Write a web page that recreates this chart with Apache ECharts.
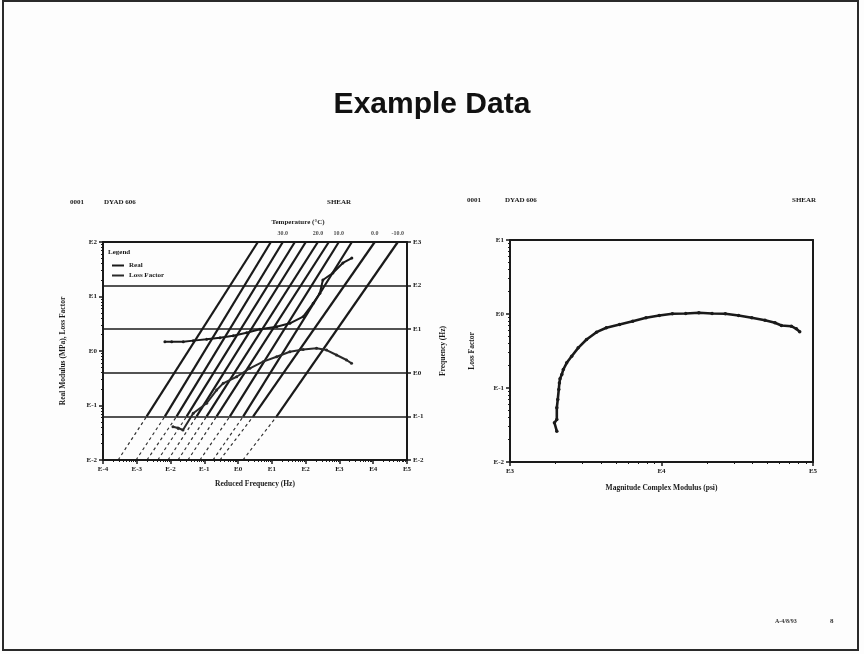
<!DOCTYPE html>
<html>
<head>
<meta charset="utf-8">
<script src="https://cdn.jsdelivr.net/npm/echarts@6/dist/echarts.min.js"></script>
<style>
html,body{margin:0;padding:0;background:#fff;}
#main{width:864px;height:654px;}
</style>
</head>
<body>
<div id="main"></div>
<script>
// left chart: reduced frequency nomograph
var realData = [[0.0068,1.48],[0.0108,1.48],[0.0238,1.48],[0.047,1.55],[0.117,1.64],[0.29,1.75],[0.716,1.91],[1.78,2.17],[4.42,2.5],[13.8,2.79],[34.1,3.22],[84.3,4.26],[167,7.5],[263,11.5],[323,20.1],[638,27.0],[1262,41.2],[2328,50.8]];
var lossData = [[0.0118,0.0408],[0.0166,0.0387],[0.0233,0.0355],[0.047,0.072],[0.117,0.11],[0.231,0.192],[0.362,0.255],[0.904,0.337],[2.23,0.482],[5.53,0.637],[13.8,0.785],[34.1,0.97],[84.3,1.07],[210,1.12],[415,1.04],[820,0.845],[1622,0.684],[2280,0.594]];
// isotherms: reduced frequency where each line meets 0.01 Hz, 0.1 Hz and 1000 Hz
var isoAt001 = [2.8e-4,9.5e-4,2.0e-3,4.2e-3,8.4e-3,0.0166,0.0327,0.074,0.18,0.29,1.39];
var isoAt01 = [1.96e-3,6.8e-3,0.0151,0.030,0.059,0.117,0.231,0.571,1.42,2.80,13.8];
var isoAt1000 = [3.85,9.33,21.1,47.9,101,230,485,960,2330,11100,53500];
var isoTemps = ['','','30.0','','','20.0','','10.0','','0.0','-10.0'];

// right chart: loss factor vs |E*|
var modulusData = [[2037,0.0261],[1965,0.0339],[2037,0.0375],[2037,0.054],[2067,0.070],[2099,0.0955],[2118,0.117],[2140,0.133],[2197,0.152],[2249,0.178],[2368,0.219],[2553,0.269],[2820,0.349],[3201,0.452],[3722,0.568],[4325,0.652],[5286,0.721],[6457,0.80],[7907,0.889],[9660,0.955],[11800,1.01],[14450,1.016],[17650,1.038],[21570,1.016],[26380,1.01],[32260,0.955],[39420,0.889],[48200,0.824],[56100,0.76],[61900,0.70],[71950,0.684],[77600,0.631],[81700,0.574]];

var ink = '#1a1a1a';
var serif = 'Liberation Serif';

function expLabel(v){
  return 'E' + Math.round(Math.log10(v));
}

var solidIso = [], dashIso = [], tempPts = [];
for (var i = 0; i < isoAt1000.length; i++) {
  dashIso.push({coords: [[isoAt001[i], 0.01], [isoAt01[i], 0.1]]});
  solidIso.push({coords: [[isoAt01[i], 0.1], [isoAt1000[i], 1000]]});
  if (isoTemps[i]) tempPts.push({value: [isoAt1000[i], 1000], name: isoTemps[i]});
}

function logAxis(opt) {
  var a = {
    type: 'log', logBase: 10, splitNumber: 10,
    axisLine: {show: true, onZero: false, lineStyle: {color: ink, width: 2}},
    axisTick: {show: true, length: 4, lineStyle: {color: ink, width: 1.5}},
    minorTick: {show: true, splitNumber: 9, length: 2, lineStyle: {color: ink}},
    splitLine: {show: false},
    axisLabel: {show: true, formatter: expLabel, fontFamily: serif, fontWeight: 'bold', fontSize: 7, color: ink, margin: 6},
    nameTextStyle: {fontFamily: serif, fontWeight: 'bold', fontSize: 7.5, color: ink}
  };
  for (var k in opt) a[k] = opt[k];
  return a;
}

function plainAxis(opt) {
  var a = {
    type: 'log', logBase: 10,
    axisLine: {show: true, onZero: false, lineStyle: {color: ink, width: 2}},
    axisTick: {show: false}, axisLabel: {show: false}, splitLine: {show: false}
  };
  for (var k in opt) a[k] = opt[k];
  return a;
}

var myChart = echarts.init(document.getElementById('main'));

var option = {
  backgroundColor: '#fdfdfd',
  animation: false,
  grid: [
    {left: 103, right: 457, top: 242, bottom: 194},
    {left: 510, right: 51, top: 240, bottom: 192}
  ],
  legend: {
    orient: 'vertical', left: 107, top: 257,
    data: ['Real', 'Loss Factor'],
    itemWidth: 12, itemHeight: 2, itemGap: 3, icon: 'rect',
    textStyle: {fontFamily: serif, fontWeight: 'bold', fontSize: 7, color: ink}
  },
  xAxis: [
    logAxis({gridIndex: 0, position: 'bottom', min: 1e-4, max: 1e5,
      name: 'Reduced Frequency (Hz)', nameLocation: 'middle', nameGap: 20}),
    plainAxis({gridIndex: 0, position: 'top', min: 1e-4, max: 1e5}),
    logAxis({gridIndex: 1, position: 'bottom', min: 1e3, max: 1e5,
      name: 'Magnitude Complex Modulus (psi)', nameLocation: 'middle', nameGap: 22}),
    plainAxis({gridIndex: 1, position: 'top', min: 1e3, max: 1e5})
  ],
  yAxis: [
    logAxis({gridIndex: 0, position: 'left', min: 1e-2, max: 1e2,
      name: 'Real Modulus (MPa), Loss Factor', nameLocation: 'middle', nameGap: 36, nameRotate: 90}),
    logAxis({gridIndex: 0, position: 'right', min: 1e-2, max: 1e3,
      minorTick: {show: false},
      splitLine: {show: true, lineStyle: {color: ink, width: 1.5}},
      name: 'Frequency (Hz)', nameLocation: 'middle', nameGap: 32, nameRotate: 90}),
    logAxis({gridIndex: 1, position: 'left', min: 1e-2, max: 1e1,
      name: 'Loss Factor', nameLocation: 'middle', nameGap: 34, nameRotate: 90}),
    plainAxis({gridIndex: 1, position: 'right', min: 1e-2, max: 1e1})
  ],
  series: [
    {
      type: 'lines', coordinateSystem: 'cartesian2d', xAxisIndex: 0, yAxisIndex: 1,
      data: dashIso, silent: true,
      lineStyle: {color: ink, width: 1.2, type: [3, 3], opacity: 0.9}
    },
    {
      type: 'lines', coordinateSystem: 'cartesian2d', xAxisIndex: 0, yAxisIndex: 1,
      data: solidIso, silent: true,
      lineStyle: {color: ink, width: 2.2, opacity: 1}
    },
    {
      type: 'scatter', xAxisIndex: 0, yAxisIndex: 1, data: tempPts, symbolSize: 0,
      label: {show: true, position: 'top', distance: 6, formatter: '{b}',
        fontFamily: serif, fontWeight: 'bold', fontSize: 6, color: ink}
    },
    {
      name: 'Real', type: 'line', xAxisIndex: 0, yAxisIndex: 0, data: realData,
      symbol: 'circle', symbolSize: 3, showSymbol: true,
      itemStyle: {color: ink}, lineStyle: {color: ink, width: 2}
    },
    {
      name: 'Loss Factor', type: 'line', xAxisIndex: 0, yAxisIndex: 0, data: lossData,
      symbol: 'circle', symbolSize: 3, showSymbol: true,
      itemStyle: {color: '#2a2a2a'}, lineStyle: {color: '#2a2a2a', width: 2}
    },
    {
      name: 'Loss Factor vs Modulus', type: 'line', xAxisIndex: 2, yAxisIndex: 2, data: modulusData,
      symbol: 'circle', symbolSize: 3.5, showSymbol: true,
      itemStyle: {color: ink}, lineStyle: {color: ink, width: 2.6}
    }
  ],
  graphic: [
    {type: 'rect', shape: {x: 3, y: 1, width: 855, height: 649},
      style: {fill: null, stroke: '#2a2a2a', lineWidth: 2}},
    {type: 'text', x: 432, y: 105, style: {text: 'Example Data', fill: '#111',
      font: 'bold 30px "Liberation Sans", Arial, sans-serif', textAlign: 'center', textVerticalAlign: 'middle'}},
    {type: 'text', x: 70, y: 202, style: {text: '0001', fill: ink, font: 'bold 7px "Liberation Serif"', textVerticalAlign: 'middle'}},
    {type: 'text', x: 104, y: 202, style: {text: 'DYAD 606', fill: ink, font: 'bold 7px "Liberation Serif"', textVerticalAlign: 'middle'}},
    {type: 'text', x: 327, y: 202, style: {text: 'SHEAR', fill: ink, font: 'bold 7px "Liberation Serif"', textVerticalAlign: 'middle'}},
    {type: 'text', x: 467, y: 200, style: {text: '0001', fill: ink, font: 'bold 7px "Liberation Serif"', textVerticalAlign: 'middle'}},
    {type: 'text', x: 505, y: 200, style: {text: 'DYAD 606', fill: ink, font: 'bold 7px "Liberation Serif"', textVerticalAlign: 'middle'}},
    {type: 'text', x: 792, y: 200, style: {text: 'SHEAR', fill: ink, font: 'bold 7px "Liberation Serif"', textVerticalAlign: 'middle'}},
    {type: 'text', x: 298, y: 222, style: {text: 'Temperature (\u00b0C)', fill: ink, font: 'bold 7px "Liberation Serif"', textAlign: 'center', textVerticalAlign: 'middle'}},
    {type: 'text', x: 108, y: 252, style: {text: 'Legend', fill: ink, font: 'bold 7px "Liberation Serif"', textVerticalAlign: 'middle'}},
    {type: 'text', x: 775, y: 621, style: {text: 'A-4/8/93', fill: '#333', font: 'bold 6px "Liberation Serif"', textVerticalAlign: 'middle'}},
    {type: 'text', x: 830, y: 621, style: {text: '8', fill: '#333', font: 'bold 7px "Liberation Serif"', textVerticalAlign: 'middle'}}
  ]
};

myChart.setOption(option);
</script>
</body>
</html>
